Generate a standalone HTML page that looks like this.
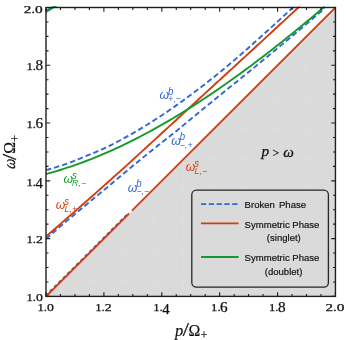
<!DOCTYPE html>
<html><head><meta charset="utf-8"><style>
html,body{margin:0;padding:0;background:#fff;}
svg{display:block;will-change:transform;}
text{font-family:"Liberation Serif",serif;}
.ss text, text.ss{font-family:"Liberation Sans",sans-serif;}
</style></head><body>
<svg width="346" height="340" viewBox="0 0 346 340">
<rect width="346" height="340" fill="#fff"/>
<defs><clipPath id="c"><rect x="46.0" y="6.3" width="289.45" height="290.09999999999997"/></clipPath></defs>
<clipPath id="tri"><path d="M46.0,296.4 L335.45,7.5 L335.45,296.4 Z"/></clipPath>
<path d="M46.0,296.4 L335.45,7.5 L335.45,296.4 Z" fill="#dadada"/>
<path d="M335.45,7.5 V296.4 M46.0,7.50 H335.45 M305.05,7.5 V296.4 M46.0,37.90 H335.45 M274.65,7.5 V296.4 M46.0,68.30 H335.45 M244.25,7.5 V296.4 M46.0,98.70 H335.45 M213.85,7.5 V296.4 M46.0,129.10 H335.45 M183.45,7.5 V296.4 M46.0,159.50 H335.45 M153.05,7.5 V296.4 M46.0,189.90 H335.45 M122.65,7.5 V296.4 M46.0,220.30 H335.45 M92.25,7.5 V296.4 M46.0,250.70 H335.45 M61.85,7.5 V296.4 M46.0,281.10 H335.45 M31.45,7.5 V296.4 M46.0,311.50 H335.45 M-268.55,307.50 L331.45,-292.50 M-238.15,307.50 L361.85,-292.50 M-207.75,307.50 L392.25,-292.50 M-177.35,307.50 L422.65,-292.50 M-146.95,307.50 L453.05,-292.50 M-116.55,307.50 L483.45,-292.50 M-86.15,307.50 L513.85,-292.50 M-55.75,307.50 L544.25,-292.50 M-25.35,307.50 L574.65,-292.50 M5.05,307.50 L605.05,-292.50 M35.45,307.50 L635.45,-292.50 M65.85,307.50 L665.85,-292.50 M96.25,307.50 L696.25,-292.50 M126.65,307.50 L726.65,-292.50 M157.05,307.50 L757.05,-292.50 M187.45,307.50 L787.45,-292.50 M217.85,307.50 L817.85,-292.50 M248.25,307.50 L848.25,-292.50 M278.65,307.50 L878.65,-292.50 M309.05,307.50 L909.05,-292.50 M339.45,307.50 L939.45,-292.50 M35.45,-292.50 L635.45,307.50 M5.05,-292.50 L605.05,307.50 M-25.35,-292.50 L574.65,307.50 M-55.75,-292.50 L544.25,307.50 M-86.15,-292.50 L513.85,307.50 M-116.55,-292.50 L483.45,307.50 M-146.95,-292.50 L453.05,307.50 M-177.35,-292.50 L422.65,307.50 M-207.75,-292.50 L392.25,307.50 M-238.15,-292.50 L361.85,307.50 M-268.55,-292.50 L331.45,307.50 M-298.95,-292.50 L301.05,307.50 M-329.35,-292.50 L270.65,307.50 M-359.75,-292.50 L240.25,307.50 M-390.15,-292.50 L209.85,307.50 M-420.55,-292.50 L179.45,307.50 M-450.95,-292.50 L149.05,307.50 M-481.35,-292.50 L118.65,307.50 M-511.75,-292.50 L88.25,307.50 M-542.15,-292.50 L57.85,307.50 M-572.55,-292.50 L27.45,307.50" clip-path="url(#tri)" stroke="#fff" stroke-opacity="0.12" stroke-width="0.8" fill="none"/>
<g clip-path="url(#c)" fill="none" stroke-width="1.9" stroke-linecap="butt">
<path d="M46.0,296.4 L129.07,213.49" stroke="#3166d4" stroke-dasharray="3.2 3" transform="translate(-0.5,-0.5)"/>
<path d="M46.0,296.4 L129.07,213.49 M131.97,210.60 L336.45,6.5" stroke="#d03f12"/>
<path d="M46.00,170.11 L49.14,169.26 L52.29,168.36 L55.43,167.43 L58.58,166.46 L61.72,165.44 L64.86,164.39 L68.01,163.26 L71.15,162.08 L74.30,160.85 L77.44,159.59 L80.58,158.28 L83.73,156.94 L86.87,155.70 L90.01,154.44 L93.16,153.13 L96.30,151.79 L99.45,150.42 L102.59,149.01 L105.73,147.56 L108.88,146.09 L112.02,144.53 L115.17,142.92 L118.31,141.28 L121.45,139.61 L124.60,137.90 L127.74,136.16 L130.89,134.38 L134.03,132.58 L137.17,130.74 L140.32,128.87 L143.46,126.97 L146.61,125.04 L149.75,123.08 L152.89,121.09 L156.04,119.07 L159.18,117.03 L162.33,114.95 L165.47,112.84 L168.61,110.71 L171.76,108.55 L174.90,106.36 L178.04,104.15 L181.19,101.91 L184.33,99.64 L187.48,97.34 L190.62,95.02 L193.76,92.68 L196.91,90.31 L200.05,87.92 L203.20,85.50 L206.34,83.06 L209.48,80.59 L212.63,78.10 L215.77,75.59 L218.92,73.06 L222.06,70.48 L225.20,67.85 L228.35,65.21 L231.49,62.54 L234.64,59.86 L237.78,57.15 L240.92,54.43 L244.07,51.68 L247.21,48.92 L250.36,46.14 L253.50,43.33 L256.64,40.52 L259.79,37.68 L262.93,34.86 L266.07,32.05 L269.22,29.23 L272.36,26.38 L275.51,23.53 L278.65,20.65 L281.79,17.76 L284.94,14.86 L288.08,11.94 L291.23,9.01 L294.37,6.06" stroke="#3166d4" stroke-dasharray="5.4 3"/>
<path d="M46.00,238.72 L49.53,235.69 L53.05,232.66 L56.58,229.63 L60.10,226.62 L63.63,223.62 L67.16,220.63 L70.68,217.68 L74.21,214.73 L77.74,211.79 L81.26,208.85 L84.79,205.92 L88.31,203.00 L91.84,200.07 L95.37,197.16 L98.89,194.25 L102.42,191.35 L105.95,188.40 L109.47,185.43 L113.00,182.46 L116.52,179.49 L120.05,176.53 L123.58,173.58 L127.10,170.66 L130.63,167.74 L134.16,164.82 L137.68,161.92 L141.21,159.01 L144.73,156.11 L148.26,153.22 L151.79,150.39 L155.31,147.63 L158.84,144.87 L162.37,142.11 L165.89,139.36 L169.42,136.61 L172.94,133.86 L176.47,130.99 L180.00,128.06 L183.52,125.14 L187.05,122.21 L190.58,119.29 L194.10,116.38 L197.63,113.46 L201.15,110.56 L204.68,107.67 L208.21,104.79 L211.73,101.91 L215.26,99.03 L218.78,96.15 L222.31,93.27 L225.84,90.40 L229.36,87.52 L232.89,84.70 L236.42,81.90 L239.94,79.09 L243.47,76.29 L246.99,73.43 L250.52,70.52 L254.05,67.62 L257.57,64.72 L261.10,61.81 L264.63,58.91 L268.15,56.00 L271.68,53.09 L275.20,50.18 L278.73,47.27 L282.26,44.36 L285.78,41.43 L289.31,38.47 L292.84,35.51 L296.36,32.54 L299.89,29.57 L303.41,26.60 L306.94,23.62 L310.47,20.63 L313.99,17.59 L317.52,14.54 L321.05,11.49 L324.57,8.43" stroke="#3166d4" stroke-dasharray="5.4 3"/>
<path d="M46.00,236.62 L49.21,233.83 L52.42,231.03 L55.62,228.24 L58.83,225.44 L62.04,222.64 L65.25,219.84 L68.45,217.04 L71.66,214.23 L74.87,211.43 L78.08,208.62 L81.29,205.81 L84.49,203.00 L87.70,200.15 L90.91,197.30 L94.12,194.45 L97.33,191.60 L100.53,188.75 L103.74,185.89 L106.95,183.04 L110.16,180.18 L113.36,177.32 L116.57,174.46 L119.78,171.60 L122.99,168.73 L126.20,165.83 L129.40,162.90 L132.61,159.97 L135.82,157.04 L139.03,154.10 L142.24,151.17 L145.44,148.23 L148.65,145.30 L151.86,142.35 L155.07,139.41 L158.27,136.46 L161.48,133.51 L164.69,130.56 L167.90,127.61 L171.11,124.65 L174.31,121.70 L177.52,118.74 L180.73,115.78 L183.94,112.83 L187.15,109.88 L190.35,106.93 L193.56,103.98 L196.77,101.02 L199.98,98.06 L203.18,95.10 L206.39,92.14 L209.60,89.18 L212.81,86.25 L216.02,83.31 L219.22,80.38 L222.43,77.44 L225.64,74.50 L228.85,71.56 L232.06,68.62 L235.26,65.68 L238.47,62.74 L241.68,59.79 L244.89,56.84 L248.09,53.89 L251.30,50.94 L254.51,47.99 L257.72,45.04 L260.93,42.08 L264.13,39.13 L267.34,36.17 L270.55,33.21 L273.76,30.25 L276.97,27.29 L280.17,24.32 L283.38,21.35 L286.59,18.39 L289.80,15.42 L293.00,12.45 L296.21,9.48 L299.42,6.50" stroke="#d03f12"/>
<path d="M46.00,174.08 L49.53,173.11 L53.06,172.11 L56.59,171.07 L60.11,169.99 L63.64,168.88 L67.17,167.72 L70.70,166.54 L74.23,165.33 L77.76,164.09 L81.29,162.81 L84.81,161.50 L88.34,160.15 L91.87,158.77 L95.40,157.35 L98.93,155.91 L102.46,154.42 L105.99,152.91 L109.52,151.36 L113.04,149.78 L116.57,148.17 L120.10,146.52 L123.63,144.85 L127.16,143.14 L130.69,141.40 L134.22,139.63 L137.74,137.83 L141.27,136.00 L144.80,134.14 L148.33,132.25 L151.86,130.34 L155.39,128.39 L158.92,126.41 L162.44,124.41 L165.97,122.38 L169.50,120.32 L173.03,118.23 L176.56,116.11 L180.09,113.97 L183.62,111.80 L187.14,109.61 L190.67,107.39 L194.20,105.14 L197.73,102.87 L201.26,100.57 L204.79,98.25 L208.32,95.90 L211.84,93.53 L215.37,91.13 L218.90,88.71 L222.43,86.27 L225.96,83.81 L229.49,81.32 L233.02,78.80 L236.55,76.27 L240.07,73.71 L243.60,71.14 L247.13,68.54 L250.66,65.92 L254.19,63.27 L257.72,60.61 L261.25,57.93 L264.77,55.23 L268.30,52.50 L271.83,49.76 L275.36,47.00 L278.89,44.22 L282.42,41.42 L285.95,38.61 L289.47,35.77 L293.00,32.92 L296.53,30.05 L300.06,27.16 L303.59,24.26 L307.12,21.34 L310.65,18.40 L314.17,15.45 L317.70,12.48 L321.23,9.49 L324.76,6.50" stroke="#149a2c"/>
<path d="M44.5,11.9 L56.5,4.9" stroke="#3166d4" stroke-width="2"/>
<path d="M44.5,12.7 L56.5,5.7" stroke="#149a2c" stroke-width="2.1"/>
</g>
<g stroke="#1e1e1e" stroke-width="1.1" fill="none">
<path d="M46.00,296.4 v-4.2 M46.00,7.5 v4.2 M46.0,296.40 h4.2 M335.45,296.40 h-4.2"/>
<path d="M60.47,296.4 v-2.5 M60.47,7.5 v2.5 M46.0,281.95 h2.5 M335.45,281.95 h-2.5"/>
<path d="M74.95,296.4 v-2.5 M74.95,7.5 v2.5 M46.0,267.51 h2.5 M335.45,267.51 h-2.5"/>
<path d="M89.42,296.4 v-2.5 M89.42,7.5 v2.5 M46.0,253.06 h2.5 M335.45,253.06 h-2.5"/>
<path d="M103.89,296.4 v-4.2 M103.89,7.5 v4.2 M46.0,238.62 h4.2 M335.45,238.62 h-4.2"/>
<path d="M118.36,296.4 v-2.5 M118.36,7.5 v2.5 M46.0,224.17 h2.5 M335.45,224.17 h-2.5"/>
<path d="M132.84,296.4 v-2.5 M132.84,7.5 v2.5 M46.0,209.73 h2.5 M335.45,209.73 h-2.5"/>
<path d="M147.31,296.4 v-2.5 M147.31,7.5 v2.5 M46.0,195.28 h2.5 M335.45,195.28 h-2.5"/>
<path d="M161.78,296.4 v-4.2 M161.78,7.5 v4.2 M46.0,180.84 h4.2 M335.45,180.84 h-4.2"/>
<path d="M176.25,296.4 v-2.5 M176.25,7.5 v2.5 M46.0,166.40 h2.5 M335.45,166.40 h-2.5"/>
<path d="M190.72,296.4 v-2.5 M190.72,7.5 v2.5 M46.0,151.95 h2.5 M335.45,151.95 h-2.5"/>
<path d="M205.20,296.4 v-2.5 M205.20,7.5 v2.5 M46.0,137.50 h2.5 M335.45,137.50 h-2.5"/>
<path d="M219.67,296.4 v-4.2 M219.67,7.5 v4.2 M46.0,123.06 h4.2 M335.45,123.06 h-4.2"/>
<path d="M234.14,296.4 v-2.5 M234.14,7.5 v2.5 M46.0,108.62 h2.5 M335.45,108.62 h-2.5"/>
<path d="M248.62,296.4 v-2.5 M248.62,7.5 v2.5 M46.0,94.17 h2.5 M335.45,94.17 h-2.5"/>
<path d="M263.09,296.4 v-2.5 M263.09,7.5 v2.5 M46.0,79.72 h2.5 M335.45,79.72 h-2.5"/>
<path d="M277.56,296.4 v-4.2 M277.56,7.5 v4.2 M46.0,65.28 h4.2 M335.45,65.28 h-4.2"/>
<path d="M292.03,296.4 v-2.5 M292.03,7.5 v2.5 M46.0,50.83 h2.5 M335.45,50.83 h-2.5"/>
<path d="M306.50,296.4 v-2.5 M306.50,7.5 v2.5 M46.0,36.39 h2.5 M335.45,36.39 h-2.5"/>
<path d="M320.98,296.4 v-2.5 M320.98,7.5 v2.5 M46.0,21.94 h2.5 M335.45,21.94 h-2.5"/>
<path d="M335.45,296.4 v-4.2 M335.45,7.5 v4.2 M46.0,7.50 h4.2 M335.45,7.50 h-4.2"/>
<rect x="46.0" y="7.5" width="289.45" height="288.9" stroke-width="1.4"/>
</g>
<g fill="#111" stroke="#111" stroke-width="0.25">
<text x="37.40" y="311.25" font-size="10.6" textLength="9.5" lengthAdjust="spacingAndGlyphs">1.</text><text x="46.90" y="311.25" font-size="10.6" textLength="6.9" lengthAdjust="spacingAndGlyphs">0</text>
<text x="95.29" y="311.25" font-size="10.6" textLength="9.5" lengthAdjust="spacingAndGlyphs">1.</text><text x="104.79" y="311.25" font-size="10.6" textLength="6.9" lengthAdjust="spacingAndGlyphs">2</text>
<text x="153.18" y="311.25" font-size="10.6" textLength="9.5" lengthAdjust="spacingAndGlyphs">1.</text><text x="162.28" y="314.15" font-size="13.8" textLength="7.4" lengthAdjust="spacingAndGlyphs">4</text>
<text x="211.07" y="311.25" font-size="10.6" textLength="9.5" lengthAdjust="spacingAndGlyphs">1.</text><text x="220.07" y="311.60" font-size="14" textLength="7.6" lengthAdjust="spacingAndGlyphs">6</text>
<text x="268.96" y="311.25" font-size="10.6" textLength="9.5" lengthAdjust="spacingAndGlyphs">1.</text><text x="277.96" y="311.60" font-size="14" textLength="7.6" lengthAdjust="spacingAndGlyphs">8</text>
<text x="325.45" y="311.25" font-size="10.6" textLength="11.3" lengthAdjust="spacingAndGlyphs">2.</text><text x="336.75" y="311.25" font-size="10.6" textLength="7.7" lengthAdjust="spacingAndGlyphs">0</text>
<text x="26.50" y="301.15" font-size="10.6" textLength="9.5" lengthAdjust="spacingAndGlyphs">1.</text><text x="36.00" y="301.15" font-size="10.6" textLength="6.9" lengthAdjust="spacingAndGlyphs">0</text>
<text x="26.50" y="243.37" font-size="10.6" textLength="9.5" lengthAdjust="spacingAndGlyphs">1.</text><text x="36.00" y="243.37" font-size="10.6" textLength="6.9" lengthAdjust="spacingAndGlyphs">2</text>
<text x="26.50" y="185.59" font-size="10.6" textLength="9.5" lengthAdjust="spacingAndGlyphs">1.</text><text x="35.60" y="188.49" font-size="13.8" textLength="7.4" lengthAdjust="spacingAndGlyphs">4</text>
<text x="26.50" y="127.81" font-size="10.6" textLength="9.5" lengthAdjust="spacingAndGlyphs">1.</text><text x="35.50" y="128.16" font-size="14" textLength="7.6" lengthAdjust="spacingAndGlyphs">6</text>
<text x="26.50" y="70.03" font-size="10.6" textLength="9.5" lengthAdjust="spacingAndGlyphs">1.</text><text x="35.50" y="70.38" font-size="14" textLength="7.6" lengthAdjust="spacingAndGlyphs">8</text>
<text x="23.70" y="12.75" font-size="10.6" textLength="11.3" lengthAdjust="spacingAndGlyphs">2.</text><text x="35.00" y="12.75" font-size="10.6" textLength="7.7" lengthAdjust="spacingAndGlyphs">0</text>
</g>
<g fill="#3166d4" class="ss" font-style="italic"><text x="159.6" y="98.7" font-size="12.2">ω</text><text transform="translate(168.10,94.60) scale(1,1.16)" font-size="9.6">b</text><text x="168.20" y="101.80" font-size="8.6">+</text><text x="173.50" y="101.80" font-size="8.6">,</text><text x="175.80" y="101.10" font-size="8.6">−</text></g>
<g fill="#3166d4" class="ss" font-style="italic"><text x="171.2" y="144.5" font-size="12.2">ω</text><text transform="translate(179.70,140.40) scale(1,1.16)" font-size="9.6">b</text><text x="179.80" y="147.60" font-size="8.6">−</text><text x="185.10" y="147.60" font-size="8.6">,</text><text x="187.40" y="147.60" font-size="8.6">+</text></g>
<g fill="#149a2c" class="ss" font-style="italic"><text x="63.4" y="182.7" font-size="12.2">ω</text><text transform="translate(71.90,178.60) scale(1,1.16)" font-size="9.6">s</text><text x="72.00" y="185.80" font-size="8.6">R</text><text x="78.60" y="185.80" font-size="8.6">,</text><text x="81.00" y="185.80" font-size="8.6">−</text></g>
<g fill="#d03f12" class="ss" font-style="italic"><text x="55.8" y="209.0" font-size="12.2">ω</text><text transform="translate(64.30,204.90) scale(1,1.16)" font-size="9.6">s</text><text x="64.40" y="212.10" font-size="8.6">L</text><text x="69.60" y="212.10" font-size="8.6">,</text><text x="72.00" y="212.10" font-size="8.6">+</text></g>
<g fill="#3166d4" class="ss" font-style="italic"><text x="127.8" y="191.6" font-size="12.2">ω</text><text transform="translate(136.30,187.00) scale(1,1.16)" font-size="9.6">b</text><text x="136.40" y="193.90" font-size="8.6">−</text><text x="141.70" y="193.90" font-size="8.6">,</text><text x="144.00" y="193.90" font-size="8.6">−</text></g>
<g fill="#d03f12" class="ss" font-style="italic"><text x="185.8" y="171.1" font-size="12.2">ω</text><text transform="translate(194.30,167.00) scale(1,1.16)" font-size="9.6">s</text><text x="194.40" y="174.20" font-size="8.6">L</text><text x="199.60" y="174.20" font-size="8.6">,</text><text x="202.00" y="174.20" font-size="8.6">−</text></g>
<g fill="#111" stroke="#111" stroke-width="0.25"><text x="261.5" y="156.4" font-size="15.2" font-style="italic">p</text><text x="272.4" y="156.9" font-size="11.8">&gt;</text><text x="283.2" y="156.6" font-size="15" font-style="italic">ω</text></g>
<g fill="#111" stroke="#111" stroke-width="0.2"><text x="174.9" y="335.5" font-size="16.5" font-style="italic">p</text><text x="182.7" y="336.3" font-size="18" textLength="6.2" lengthAdjust="spacingAndGlyphs">/</text><text x="188.5" y="335.5" font-size="16.8" textLength="11.8" lengthAdjust="spacingAndGlyphs">Ω</text><text x="200.6" y="338.7" font-size="12.4">+</text></g>
<g transform="translate(14.8,169.2) rotate(-90)" fill="#111" stroke="#111" stroke-width="0.2"><text transform="scale(0.83,1) skewX(-10)" font-size="17" font-style="italic">ω</text><text x="9.3" y="0.8" font-size="18" textLength="6.2" lengthAdjust="spacingAndGlyphs">/</text><text x="15.4" y="0" font-size="16.8" textLength="11.8" lengthAdjust="spacingAndGlyphs">Ω</text><text x="27.1" y="3.7" font-size="12.4">+</text></g>
<rect x="191.8" y="190.1" width="136.6" height="97.1" rx="4.6" ry="4.6" fill="#dadada" stroke="#262626" stroke-width="1.3"/>
<g fill="none" stroke-width="1.8">
<path d="M201,204.2 H237.4" stroke="#3166d4" stroke-dasharray="5.2 2.6"/>
<path d="M201,223.4 H238.6" stroke="#d03f12"/>
<path d="M201,257 H238.6" stroke="#149a2c"/>
</g>
<g font-size="9.55" fill="#111" stroke="#111" stroke-width="0.18" class="ss">
<text x="244.6" y="208.2" word-spacing="1.5">Broken Phase</text>
<text x="282" y="228" text-anchor="middle">Symmetric Phase</text>
<text x="283.8" y="241.4" text-anchor="middle">(singlet)</text>
<text x="282" y="261.1" text-anchor="middle">Symmetric Phase</text>
<text x="283.6" y="274.5" text-anchor="middle">(doublet)</text>
</g>
</svg>
</body></html>
